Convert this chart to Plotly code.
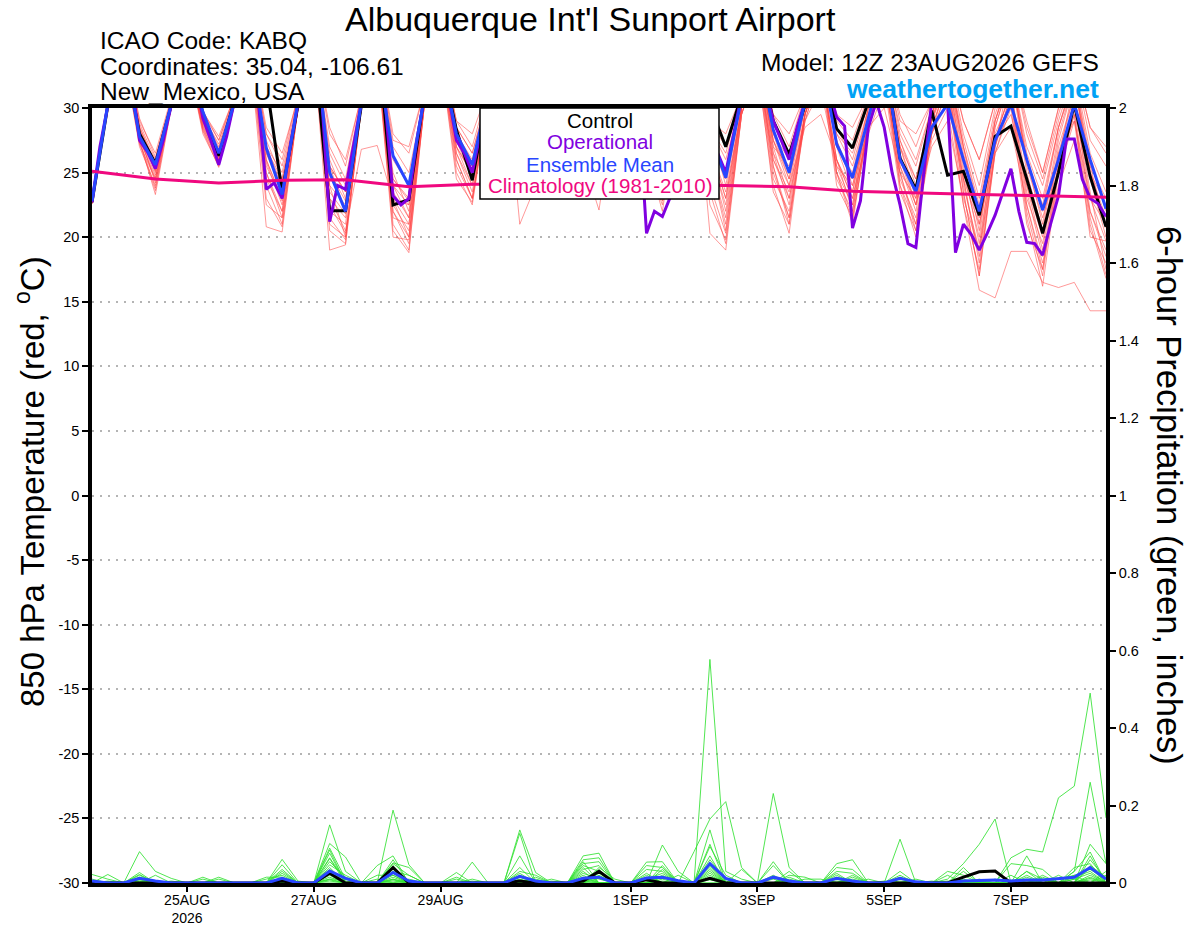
import pandas as pd
import plotly.graph_objects as go

# ---------------- time axes (GEFS 12Z 23AUG2026 run, 6-hourly / GFS 3-hourly)
t6 = pd.date_range("2026-08-23 12:00", periods=65, freq="6h")
t3 = pd.date_range("2026-08-23 12:00", periods=129, freq="3h")
t_clim = pd.date_range("2026-08-23 12:00", periods=17, freq="24h")

tick_dates = ["2026-08-25", "2026-08-27", "2026-08-29", "2026-09-01",
              "2026-09-03", "2026-09-05", "2026-09-07"]
tick_text = ["25AUG<br>2026", "27AUG", "29AUG", "1SEP", "3SEP", "5SEP", "7SEP"]
temp_ticks = [-30, -25, -20, -15, -10, -5, 0, 5, 10, 15, 20, 25, 30]
precip_ticks = [0, 0.2, 0.4, 0.6, 0.8, 1, 1.2, 1.4, 1.6, 1.8, 2]

# ---------------- 850 hPa temperature, ensemble members (deg C)
temp_members = [
    [22.7,30.2,34.0,27.0, 24.0,30.3,34.0,28.5, 25.8,30.2,34.0,20.8, 20.4,30.0,34.5,19.0, 19.4,30.0,34.0,20.5, 18.8,30.5,34.0,27.0, 24.0,30.5,34.0,26.5, 24.5,30.5,34.0,27.0, 24.8,30.5,34.0,27.0, 24.5,30.5,34.0,26.0, 21.0,30.0,33.5,26.5, 22.5,29.5,33.5,26.0, 22.0,29.0,33.0,24.5, 21.5,28.0,32.5,24.5, 18.0,27.0,31.0,23.5, 18.5,25.5,30.5,23.0, 19.7],
    [22.8,30.5,34.5,28.2, 25.0,30.5,34.0,29.0, 26.0,30.6,34.5,24.5, 22.0,30.5,35.0,23.0, 20.5,26.8,27.1,22.9, 20.0,31.0,34.5,28.5, 25.0,31.0,34.5,28.0, 25.5,31.0,34.5,28.0, 25.5,31.0,34.5,28.0, 25.0,31.0,34.5,28.5, 24.0,30.5,34.5,28.0, 24.5,30.5,34.0,27.5, 24.0,29.5,34.0,27.0, 23.0,29.0,33.5,27.0, 21.0,27.0,33.0,25.5, 21.5,26.0,32.0,25.0, 22.5],
    [22.6,30.0,34.0,27.5, 23.3,30.0,34.0,28.0, 25.5,30.5,34.5,25.0, 21.5,30.0,34.5,22.0, 21.0,30.5,34.0,24.0, 21.5,31.0,34.0,24.5, 22.7,30.5,34.0,21.0, 24.0,30.5,34.0,26.0, 22.1,30.5,34.0,27.0, 23.0,30.5,34.0,24.0, 20.3,30.0,34.0,27.0, 23.0,29.5,33.5,25.0, 22.5,30.0,33.0,25.5, 22.0,29.0,32.0,24.0, 19.0,28.0,31.0,22.5, 17.5,26.0,30.0,21.5, 17.1],
    [22.7,30.3,34.5,28.0, 25.5,30.5,34.5,29.0, 26.8,30.5,34.5,27.0, 24.0,30.5,35.0,25.5, 22.0,30.5,34.5,25.0, 22.0,31.0,34.5,27.5, 25.5,31.0,34.5,28.0, 25.0,31.0,34.5,28.0, 25.5,31.0,34.5,27.5, 24.5,30.5,34.0,27.0, 22.0,30.0,33.5,25.0, 21.5,29.0,33.0,25.5, 22.5,28.5,32.0,23.5, 20.5,27.5,30.0,22.5, 15.9,15.3,18.9,18.9, 16.5,16.1,16.5,14.3, 14.3],
    [22.8,30.6,35.0,29.0, 26.5,30.8,34.5,29.8, 27.5,31.0,35.0,28.0, 26.0,31.0,35.0,28.5, 25.5,31.0,35.0,28.0, 26.5,31.5,35.0,29.0, 27.0,31.5,35.0,29.0, 26.5,31.0,35.0,29.0, 27.0,31.0,35.0,29.0, 26.5,31.0,35.0,29.0, 27.0,31.0,35.0,29.5, 27.0,31.0,34.5,29.0, 27.5,31.0,34.5,29.5, 27.0,30.5,34.0,29.0, 26.0,30.5,34.0,29.0, 25.0,30.0,33.5,28.5, 27.0],
    [22.6,30.2,34.0,27.2, 24.5,30.2,34.0,28.8, 26.2,30.3,34.0,26.0, 22.8,30.3,34.5,21.5, 19.8,30.0,34.0,22.0, 19.5,30.5,34.0,26.5, 23.5,30.5,34.0,27.0, 25.0,30.5,34.0,27.5, 24.0,30.5,34.0,27.5, 23.5,30.5,34.0,23.5, 19.5,29.5,33.0,24.0, 20.3,29.5,33.0,26.0, 23.5,29.5,33.0,27.0, 24.5,29.5,33.0,25.0, 20.0,28.5,32.5,26.0, 21.0,28.0,32.0,25.5, 20.7],
    [22.7,30.4,34.5,28.5, 25.8,30.5,34.5,29.5, 27.0,30.7,34.5,27.5, 24.5,30.5,35.0,26.0, 23.0,30.5,34.5,23.5, 21.5,30.8,34.5,28.0, 26.0,31.0,34.5,28.5, 26.0,31.0,34.5,28.5, 26.0,31.0,34.5,28.5, 26.0,31.0,34.5,28.0, 25.0,30.5,34.0,28.0, 26.0,30.5,34.0,28.0, 25.5,30.0,34.0,27.5, 24.5,29.5,33.5,27.0, 22.5,29.0,33.0,26.5, 23.0,28.5,32.5,26.0, 22.0],
    [22.8,30.3,34.5,28.0, 25.2,30.4,34.0,29.2, 26.5,30.5,34.5,23.0, 20.8,30.0,34.5,20.5, 19.5,30.0,34.0,21.0, 19.0,30.5,34.0,26.0, 23.0,30.5,34.0,27.0, 25.0,31.0,34.5,28.0, 25.5,31.0,34.5,28.0, 25.0,30.5,34.0,26.5, 22.5,30.0,34.0,25.5, 21.0,29.5,33.5,25.0, 21.0,29.0,33.0,24.0, 20.0,28.5,32.0,23.5, 17.0,27.0,31.0,21.5, 16.2,25.0,29.5,20.0, 19.7],
    [22.7,30.1,34.0,27.8, 24.8,30.2,34.0,28.6, 26.0,30.4,34.0,25.5, 23.0,30.3,34.5,23.0, 21.5,30.3,34.0,22.5, 20.5,30.8,34.0,27.5, 24.5,30.8,34.0,27.5, 25.0,30.8,34.0,27.5, 25.0,30.8,34.0,27.5, 24.5,30.5,34.0,27.0, 23.5,30.0,33.5,27.5, 24.0,28.5,29.5,26.0, 23.0,28.0,31.5,26.5, 22.5,27.0,29.0,23.0, 19.0,26.5,28.5,22.5, 18.0,24.0,27.5,22.0, 18.5],
    [22.8,30.5,34.5,28.8, 26.0,30.6,34.5,29.6, 27.5,30.8,35.0,28.0, 25.5,30.8,35.0,27.0, 24.5,30.8,35.0,27.0, 25.0,31.0,35.0,28.5, 26.5,31.0,35.0,28.5, 26.0,31.0,35.0,28.5, 26.5,31.0,35.0,28.5, 26.0,31.0,35.0,28.5, 26.5,31.0,34.5,29.0, 26.5,30.5,34.5,28.5, 26.0,30.5,34.5,28.0, 25.5,30.0,34.0,28.0, 24.0,30.0,34.0,28.0, 24.5,29.5,33.5,27.5, 25.5],
    [22.6,30.2,34.0,27.5, 23.8,30.2,34.0,28.2, 25.4,30.2,34.0,26.5, 23.5,30.2,34.5,24.0, 20.0,30.2,34.0,23.0, 22.5,30.5,34.0,26.0, 23.0,30.5,34.0,26.5, 23.5,30.5,34.0,26.5, 24.0,30.5,34.0,26.0, 22.5,30.0,34.0,26.0, 20.5,29.5,33.5,24.5, 22.0,29.5,33.5,25.0, 21.5,28.5,33.0,25.5, 22.5,29.0,32.5,25.5, 19.5,27.5,31.5,24.0, 19.0,26.5,31.0,23.5, 17.5],
    [22.7,30.4,34.5,28.3, 25.3,30.4,34.5,29.3, 26.8,30.6,34.5,26.5, 24.0,30.5,35.0,25.0, 22.8,30.5,34.5,24.5, 22.8,30.8,34.5,28.0, 25.8,31.0,34.5,28.0, 25.5,31.0,34.5,28.0, 25.8,31.0,34.5,28.0, 25.5,31.0,34.5,27.5, 24.5,30.5,34.0,27.5, 25.0,30.5,34.0,27.5, 24.5,30.0,33.5,27.0, 23.5,29.5,33.0,26.5, 21.5,29.0,32.5,26.0, 22.0,28.5,32.0,25.0, 21.5],
    [22.7,30.2,34.0,27.6, 24.6,30.3,34.0,28.9, 26.3,30.4,34.0,24.0, 21.0,30.0,34.5,23.5, 21.8,30.2,34.0,22.0, 20.0,30.5,34.0,26.5, 24.0,30.5,34.0,27.0, 24.5,30.5,34.0,27.0, 24.5,30.5,34.0,27.0, 24.0,30.5,34.0,26.0, 21.5,30.0,33.5,26.0, 23.5,29.5,33.0,26.0, 23.0,29.0,33.0,25.0, 21.0,28.5,32.0,24.5, 18.5,27.5,31.5,23.0, 19.5,27.0,31.0,22.0, 19.0],
    [22.8,30.5,34.5,28.6, 25.6,30.5,34.5,29.4, 27.2,30.7,35.0,27.0, 25.0,30.6,35.0,26.5, 24.0,30.6,35.0,26.0, 24.0,31.0,35.0,28.5, 26.5,31.0,35.0,28.5, 26.5,31.0,35.0,28.5, 26.0,31.0,35.0,28.5, 26.5,31.0,35.0,28.5, 26.0,30.5,34.5,27.0, 25.5,30.5,34.0,28.0, 26.5,30.5,34.0,28.5, 26.0,30.0,33.5,27.5, 23.0,29.5,33.0,27.0, 24.0,29.0,33.0,26.5, 23.5],
    [22.7,30.3,34.0,27.9, 24.2,30.3,34.0,28.4, 25.9,30.4,34.0,25.8, 22.5,30.2,34.5,22.5, 20.3,30.2,34.0,21.5, 21.0,30.5,34.0,25.0, 22.5,30.5,34.0,26.0, 24.0,30.5,34.0,26.5, 23.5,30.5,34.0,26.5, 22.0,30.0,34.0,20.3, 19.0,29.5,33.5,25.5, 21.5,29.5,33.0,24.5, 22.0,29.0,32.5,25.0, 20.5,28.0,31.5,22.5, 17.5,26.5,30.5,22.0, 17.0,25.5,29.5,21.0, 16.8],
    [22.8,30.4,34.5,28.4, 25.4,30.5,34.5,29.2, 26.7,30.6,34.5,26.0, 23.0,30.4,35.0,24.0, 22.5,30.4,34.5,23.0, 21.0,30.8,34.5,27.0, 25.0,31.0,34.5,27.5, 25.5,31.0,34.5,27.5, 25.0,31.0,34.5,28.0, 25.0,30.5,34.0,27.0, 23.0,30.0,34.0,26.5, 24.0,30.0,33.5,27.0, 23.5,29.5,33.5,26.0, 22.5,29.0,33.0,26.0, 20.5,28.5,32.5,25.0, 20.5,27.5,32.0,24.5, 20.0],
    [22.7,30.2,34.0,27.7, 24.4,30.3,34.0,28.7, 26.1,30.4,34.0,25.0, 22.0,30.2,34.5,25.5, 23.5,30.3,34.0,24.5, 23.0,30.8,34.0,27.0, 24.8,30.8,34.0,27.5, 25.0,30.8,34.0,27.5, 25.2,30.8,34.0,27.5, 24.5,30.5,34.0,27.0, 23.0,30.0,33.5,26.0, 23.0,29.0,31.5,25.5, 24.0,28.5,30.0,25.0, 23.0,28.0,30.5,24.5, 21.0,27.5,29.5,24.0, 20.0,26.5,29.0,23.0, 21.0],
    [22.7,30.3,34.5,28.1, 25.1,30.4,34.5,29.1, 26.6,30.5,34.5,26.8, 24.5,30.4,35.0,25.5, 23.5,30.4,34.5,24.0, 22.5,30.8,34.5,27.5, 25.5,31.0,34.5,28.0, 25.5,31.0,34.5,28.0, 25.5,31.0,34.5,28.0, 25.5,30.8,34.5,28.0, 25.0,30.5,34.0,27.5, 24.5,30.0,34.0,27.0, 25.0,30.0,33.5,27.5, 24.0,29.5,33.0,27.0, 22.0,29.0,33.0,26.0, 22.5,28.5,32.5,25.5, 23.0],
    [22.6,30.1,34.0,27.3, 23.6,30.1,34.0,28.3, 25.6,30.3,34.0,22.5, 21.5,30.0,34.5,21.0, 20.0,30.0,34.0,20.0, 19.8,30.5,34.0,25.5, 23.0,30.5,34.0,26.0, 23.0,30.5,34.0,26.5, 23.5,30.5,34.0,26.0, 22.8,30.0,34.0,22.5, 19.8,29.5,33.5,23.5, 21.0,29.0,33.0,24.0, 21.5,28.5,32.5,24.0, 21.0,28.0,31.5,23.5, 17.0,26.5,30.0,21.0, 17.5,25.0,29.0,20.5, 18.0],
    [22.8,30.6,35.0,29.2, 26.2,30.6,34.5,29.7, 27.8,30.9,35.0,28.5, 26.5,30.9,35.0,28.0, 26.0,30.9,35.0,27.5, 27.0,31.5,35.0,29.0, 28.0,31.5,35.0,29.0, 27.0,31.5,35.0,29.0, 27.0,31.5,35.0,29.0, 27.0,31.0,35.0,29.0, 28.0,31.0,35.0,29.5, 28.0,31.0,34.5,29.5, 28.5,31.0,34.5,29.0, 28.0,30.5,34.0,29.0, 26.0,30.5,34.0,28.5, 25.0,30.0,33.5,28.5, 26.5],
]

temp_control = [22.7,30.2,34.5,28.0, 25.7,30.2,34.0,29.6, 26.3,30.6,34.5,32.0, 23.5,30.2,35.0,22.05,
                22.05,30.2,36.0,22.5, 22.9,31.2,34.0,28.3, 24.4,31.0,34.5,28.0, 25.0,31.0,34.5,28.0,
                25.5,31.0,34.5,28.0, 25.0,31.0,34.5,30.2, 27.0,31.0,34.5,29.0, 26.4,30.3,34.0,28.4,
                26.9,30.5,34.0,26.1, 23.7,29.8,24.8,25.1, 21.7,27.8,28.6,24.5, 20.3,25.0,30.3,24.7, 20.8]

temp_mean = [22.8,30.3,34.5,27.8, 25.6,30.3,34.0,29.7, 26.5,30.6,34.5,26.9, 23.3,30.5,36.0,25.0,
             22.0,30.5,34.0,26.3, 24.0,31.0,34.0,28.0, 25.6,31.0,34.5,28.0, 25.5,31.0,34.5,28.0,
             25.5,31.0,34.5,28.0, 25.0,31.0,34.5,28.0, 24.6,30.8,34.5,28.3, 25.0,30.5,34.0,27.2,
             24.6,29.2,34.0,26.0, 23.5,28.5,30.3,26.0, 22.0,27.5,30.3,26.0, 22.1,26.0,30.3,26.0, 22.2]

# operational GFS, 3-hourly
temp_oper = [22.7,27.0,30.2,33.0,34.5,32.0,27.5,26.6, 25.3,27.5,30.2,33.0,34.0,32.5,29.2,27.5,
             25.6,27.8,30.6,33.0,34.5,30.5,23.7,24.2, 23.0,27.0,30.3,33.0,35.0,30.8,21.2,24.0,
             23.7,27.0,30.4,33.0,34.0,30.5,23.2,22.5, 23.0,27.5,31.0,33.5,34.0,31.0,27.5,26.5,
             25.0,28.0,31.0,33.5,34.5,31.5,28.0,26.5, 25.5,28.0,31.0,33.5,34.5,31.5,28.0,26.5,
             25.5,28.0,31.0,33.5,34.5,30.0,20.3,22.0, 21.6,23.1,28.0,31.0,34.0,31.0,28.0,26.5,
             25.0,28.0,31.0,33.5,34.5,31.5,29.0,27.5, 26.0,28.5,30.5,33.0,34.0,31.5,29.3,28.6,
             20.7,22.8,28.5,30.5,28.5,25.0,22.5,19.5, 19.2,25.0,30.5,31.0,30.5,18.8,21.0,20.2,
             19.0,20.3,21.7,23.5,25.3,22.0,19.6,19.5, 18.6,21.0,23.2,27.6,27.6,24.5,23.0,22.6,
             21.6]

# climatology (1981-2010), daily
temp_clim = [25.1, 24.5, 24.2, 24.4, 24.45, 23.9, 24.1, 24.1, 24.1, 24.05, 24.0, 23.9,
             23.55, 23.4, 23.3, 23.2, 23.1]

# ---------------- 6-hour precipitation (inches), {6h step: amount}, zero elsewhere
precip_members = [
    {0: .022, 1: .01, 3: .081, 4: .03, 5: .012, 15: .15, 16: .03, 19: .05, 20: .02, 27: .137, 28: .027, 39: .577, 40: .03, 41: .01, 59: .03, 60: .01},
    {3: .027, 12: .061, 13: .005, 15: .102, 16: .067, 19: .188, 20: .047, 31: .07, 32: .077, 36: .098, 37: .03, 43: .231, 44: .04, 62: .04, 63: .05},
    {1: .022, 3: .022, 7: .015, 12: .047, 15: .085, 18: .045, 19: .07, 24: .054, 27: .128, 31: .06, 32: .065, 38: .081, 39: .165, 40: .21, 41: .04},
    {3: .015, 8: .015, 12: .03, 15: .077, 19: .052, 20: .04, 23: .027, 27: .07, 31: .05, 32: .055, 35: .054, 36: .055, 39: .137, 43: .055, 47: .05, 48: .06, 58: .065, 59: .087, 60: .08, 61: .22, 62: .25, 63: .49, 64: .168},
    {4: .02, 11: .01, 12: .02, 15: .063, 19: .04, 23: .015, 27: .03, 28: .02, 31: .045, 32: .03, 35: .045, 36: .04, 39: .1, 43: .045, 47: .04, 48: .035, 51: .113, 54: .01, 55: .05, 56: .1, 57: .165, 62: .03, 63: .26, 64: .05},
    {7: .01, 11: .015, 12: .015, 15: .047, 16: .02, 19: .03, 20: .02, 24: .01, 28: .015, 31: .04, 35: .035, 36: .03, 39: .094, 40: .02, 44: .03, 47: .03, 48: .025, 51: .03, 54: .03, 55: .02, 59: .07, 63: .1, 64: .05},
    {0: .01, 8: .01, 15: .03, 18: .02, 19: .02, 23: .01, 27: .02, 29: .01, 31: .03, 35: .02, 37: .02, 39: .05, 41: .035, 44: .02, 45: .015, 48: .02, 51: .02, 55: .04, 58: .05, 59: .045, 60: .035, 62: .02, 64: .02},
    {3: .01, 15: .02, 18: .01, 20: .01, 29: .005, 32: .02, 36: .02, 39: .02, 45: .01, 46: .01, 52: .01, 59: .03, 63: .04},
    {4: .005, 12: .01, 15: .01, 16: .01, 19: .015, 27: .01, 31: .02, 36: .015, 39: .03, 44: .01, 47: .015, 53: .005, 60: .02, 62: .015, 63: .03},
    {1: .005, 3: .012, 12: .025, 15: .04, 19: .025, 28: .01, 31: .025, 32: .01, 35: .01, 36: .025, 39: .04, 43: .02, 48: .01, 50: .005, 54: .02, 61: .02, 63: .06, 64: .01},
    {3: .005, 15: .055, 16: .015, 19: .01, 27: .04, 32: .04, 33: .01, 39: .06, 40: .01, 44: .015, 47: .02, 51: .015, 56: .01, 59: .02, 62: .03, 63: .08},
    {12: .005, 15: .015, 19: .035, 20: .005, 31: .015, 36: .035, 39: .025, 43: .01, 48: .015, 55: .01, 58: .02, 60: .015, 63: .02},
    {3: .02, 15: .035, 19: .005, 24: .005, 27: .015, 31: .035, 32: .045, 35: .025, 39: .015, 40: .005, 47: .01, 51: .005, 57: .01, 61: .01, 62: .02, 63: .035, 64: .01},
    {5: .005, 12: .035, 15: .065, 16: .005, 19: .02, 28: .005, 32: .025, 36: .01, 39: .07, 44: .005, 49: .01, 55: .03, 59: .015, 63: .07},
    {15: .01, 19: .06, 27: .005, 31: .01, 35: .015, 39: .01, 47: .025, 54: .005, 62: .01, 64: .03},
    {3: .008, 12: .012, 15: .025, 19: .045, 31: .055, 36: .045, 43: .015, 48: .005, 59: .01, 63: .015},
    {15: .005, 19: .01, 27: .025, 32: .035, 39: .045, 56: .005, 62: .01, 63: .025},
    {12: .008, 15: .09, 16: .01, 31: .005, 36: .005, 39: .035, 51: .01, 60: .01, 63: .045, 64: .015},
    {3: .004, 19: .008, 32: .012, 39: .012, 47: .005, 59: .005, 63: .012},
    {15: .008, 27: .008, 35: .008, 39: .008, 55: .005, 63: .008},
]
precip_control = {12: .005, 15: .025, 19: .04, 27: .005, 31: .005, 32: .03, 35: .008, 39: .012,
                  55: .015, 56: .029, 57: .031}
precip_mean = {0: .005, 3: .012, 4: .005, 12: .012, 15: .031, 16: .012, 19: .027, 20: .005,
               27: .017, 28: .005, 31: .012, 32: .015, 35: .013, 36: .015, 37: .006, 39: .05,
               40: .012, 43: .015, 44: .005, 47: .012, 48: .005, 51: .012, 52: .003, 55: .005,
               56: .006, 57: .008, 58: .005, 59: .008, 60: .008, 61: .012, 62: .015, 63: .04, 64: .01}


def dense(d):
    return [d.get(i, 0.0) for i in range(len(t6))]


for m in temp_members:
    if len(m) != len(t6):
        raise ValueError("member length %d" % len(m))

# ---------------- layout helpers (page pixel -> paper)
W, H = 1200, 927
PL, PR, PT, PB = 92, 1106, 108, 883          # plot area in page pixels
PW, PH = PR - PL, PB - PT


def px(x):
    return (x - PL) / PW


def py(y):
    return (PB - y) / PH


FONT = "Liberation Sans, Arial, Helvetica, sans-serif"
RED = "rgba(255,70,70,0.65)"
GREEN = "rgb(50,225,50)"
PURPLE = "#8000e0"
BLUE = "#2846ff"
PINK = "#f0087f"

fig = go.Figure()

for m in temp_members:
    fig.add_trace(go.Scatter(x=t6, y=m, mode="lines", line=dict(color=RED, width=0.85),
                             hoverinfo="skip", showlegend=False))
fig.add_trace(go.Scatter(x=t6, y=temp_control, mode="lines", line=dict(color="black", width=3),
                         name="Control", showlegend=False))
fig.add_trace(go.Scatter(x=t3, y=temp_oper, mode="lines", line=dict(color=PURPLE, width=3),
                         name="Operational", showlegend=False))
fig.add_trace(go.Scatter(x=t6, y=temp_mean, mode="lines", line=dict(color=BLUE, width=3),
                         name="Ensemble Mean", showlegend=False))
fig.add_trace(go.Scatter(x=t_clim, y=temp_clim, mode="lines", line=dict(color=PINK, width=3),
                         name="Climatology", showlegend=False))

for d in precip_members:
    fig.add_trace(go.Scatter(x=t6, y=dense(d), mode="lines", yaxis="y2",
                             line=dict(color=GREEN, width=0.85), hoverinfo="skip", showlegend=False))
fig.add_trace(go.Scatter(x=t6, y=dense(precip_control), mode="lines", yaxis="y2",
                         line=dict(color="black", width=3), showlegend=False))
fig.add_trace(go.Scatter(x=t6, y=dense(precip_mean), mode="lines", yaxis="y2",
                         line=dict(color=BLUE, width=3), showlegend=False))

fig.update_layout(
    width=W, height=H,
    margin=dict(l=PL, r=W - PR, t=PT, b=H - PB, autoexpand=False),
    paper_bgcolor="white", plot_bgcolor="white",
    font=dict(family=FONT, color="black", size=14),
    showlegend=False,
    xaxis=dict(range=[t6[0], t6[-1]], tickvals=tick_dates, ticktext=tick_text,
               ticks="outside", ticklen=5, tickwidth=1.5, tickcolor="black",
               showline=True, linecolor="black", linewidth=3.5, mirror=True,
               showgrid=False, zeroline=False, tickfont=dict(size=14), automargin=False,
               ticklabelstandoff=-4),
    yaxis=dict(range=[-30, 30], tickvals=temp_ticks, ticktext=[str(v) for v in temp_ticks],
               ticks="outside", ticklen=6, tickwidth=1.5, tickcolor="black",
               showline=True, linecolor="black", linewidth=3.5,
               showgrid=True, gridcolor="#b4b4b4", gridwidth=1.5, griddash="2px,6px",
               zeroline=False, tickfont=dict(size=14.5), automargin=False),
    yaxis2=dict(range=[0, 2], tickvals=precip_ticks, ticktext=[("%g" % v) for v in precip_ticks],
                overlaying="y", side="right",
                ticks="outside", ticklen=6, tickwidth=1.5, tickcolor="black",
                showline=True, linecolor="black", linewidth=3.5,
                showgrid=False, zeroline=False, tickfont=dict(size=14.5), automargin=False),
)

# legend box
fig.add_shape(type="rect", xref="paper", yref="paper", x0=px(480), x1=px(719),
              y0=py(199), y1=py(108), fillcolor="white", line=dict(color="black", width=1.5),
              layer="above")

ann = []


def text(x, y, s, size, color="black", xanchor="center", angle=0):
    ann.append(dict(x=px(x), y=py(y), xref="paper", yref="paper", text=s, showarrow=False,
                    xanchor=xanchor, yanchor="middle", textangle=angle,
                    font=dict(family=FONT, size=size, color=color)))


text(600, 121, "Control", 20.5)
text(600, 142, "Operational", 20.5, PURPLE)
text(600, 164, "Ensemble Mean", 20.5, BLUE)
text(600, 186, "Climatology (1981-2010)", 20.5, PINK)

text(590, 19, "Albuquerque Int'l Sunport Airport", 34)
text(98, 40, "ICAO Code: KABQ", 24.5, xanchor="left")
text(98, 66, "Coordinates: 35.04, -106.61", 24.5, xanchor="left")
text(98, 92, "New_Mexico, USA", 24.5, xanchor="left")
text(1101, 63, "Model: 12Z 23AUG2026 GEFS", 24.5, xanchor="right")
text(1101, 89, "<b>weathertogether.net</b>", 26.5, "#00a2f5", xanchor="right")

text(30, 482, "850 hPa Temperature (red, <sup>o</sup>C)", 33, angle=-90)
text(1169, 495, "6-hour Precipitation (green, inches)", 34.5, angle=90)

fig.update_layout(annotations=ann)

# the page body otherwise adds an 8px margin around the figure
fig.write_html("out.html", config={"displayModeBar": False},
               post_script="document.body.style.margin='0px';")
